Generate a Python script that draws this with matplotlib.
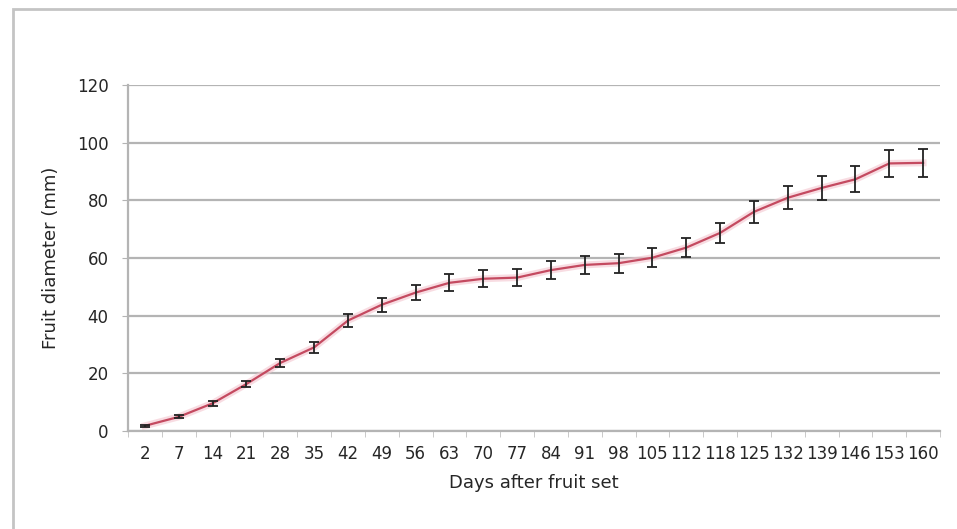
import matplotlib
matplotlib.use("Agg")
import matplotlib.pyplot as plt
from matplotlib.patches import Rectangle
import numpy as np

days = ["2", "7", "14", "21", "28", "35", "42", "49", "56", "63", "70", "77",
        "84", "91", "98", "105", "112", "118", "125", "132", "139", "146", "153", "160"]
diameter = [1.8, 4.9, 9.6, 16.3, 23.6, 29.0, 38.3, 43.8, 48.0, 51.4, 52.8, 53.2,
            55.8, 57.6, 58.2, 60.1, 63.6, 68.7, 76.0, 80.9, 84.3, 87.3, 92.8, 93.0]
err = [0.3, 0.5, 0.8, 1.0, 1.3, 1.8, 2.2, 2.4, 2.6, 2.9, 2.9, 2.9,
       3.1, 3.2, 3.3, 3.2, 3.4, 3.6, 3.9, 4.0, 4.2, 4.5, 4.7, 4.9]
yticks = [0, 20, 40, 60, 80, 100, 120]

W, H = 957, 529
fig = plt.figure(figsize=(W / 100, H / 100), dpi=100)
fig.patch.set_facecolor("white")

# outer chart frame
fig.patches.append(Rectangle((13 / W, -0.1), 1.2, 1 - 9 / H + 0.1,
                             transform=fig.transFigure, fill=False,
                             edgecolor="#c4c4c4", linewidth=2))

ax = fig.add_axes([128 / W, 1 - 431 / H, (940 - 128) / W, (431 - 85) / H])
x = np.arange(len(days))

ax.set_ylim(0, 120)
ax.set_xlim(-0.5, len(days) - 0.5)
ax.set_yticks(yticks)
ax.set_yticklabels([str(v) for v in yticks])
ax.yaxis.grid(True, color="#b4b4b4", linewidth=1.6)
ax.set_axisbelow(True)

ax.plot(x, diameter, color="#f4c6cf", linewidth=5, alpha=0.6, zorder=2)
ax.plot(x, diameter, color="#c44a60", linewidth=1.6, zorder=3)
ax.errorbar(x, diameter, yerr=err, fmt="none", ecolor="#222222",
            elinewidth=1.3, capsize=3.5, capthick=1.3, zorder=4)

ax.set_xticks(x)
ax.set_xticklabels(days)
ax.set_xticks(np.arange(-0.5, len(days), 1), minor=True)
ax.tick_params(axis="x", which="major", length=0, pad=10, labelsize=12, colors="#262626")
ax.tick_params(axis="x", which="minor", length=4, color="#c0c0c0")
ax.tick_params(axis="y", length=4, color="#b4b4b4", pad=10, labelsize=12, labelcolor="#262626")

for s in ["top", "right"]:
    ax.spines[s].set_visible(False)
for s in ["left", "bottom"]:
    ax.spines[s].set_color("#b4b4b4")
    ax.spines[s].set_linewidth(1.6)

ax.set_xlabel("Days after fruit set", fontsize=13, color="#262626", labelpad=8)
ax.set_ylabel("Fruit diameter (mm)", fontsize=13, color="#262626", labelpad=12)

fig.savefig("out.png", dpi=100)
